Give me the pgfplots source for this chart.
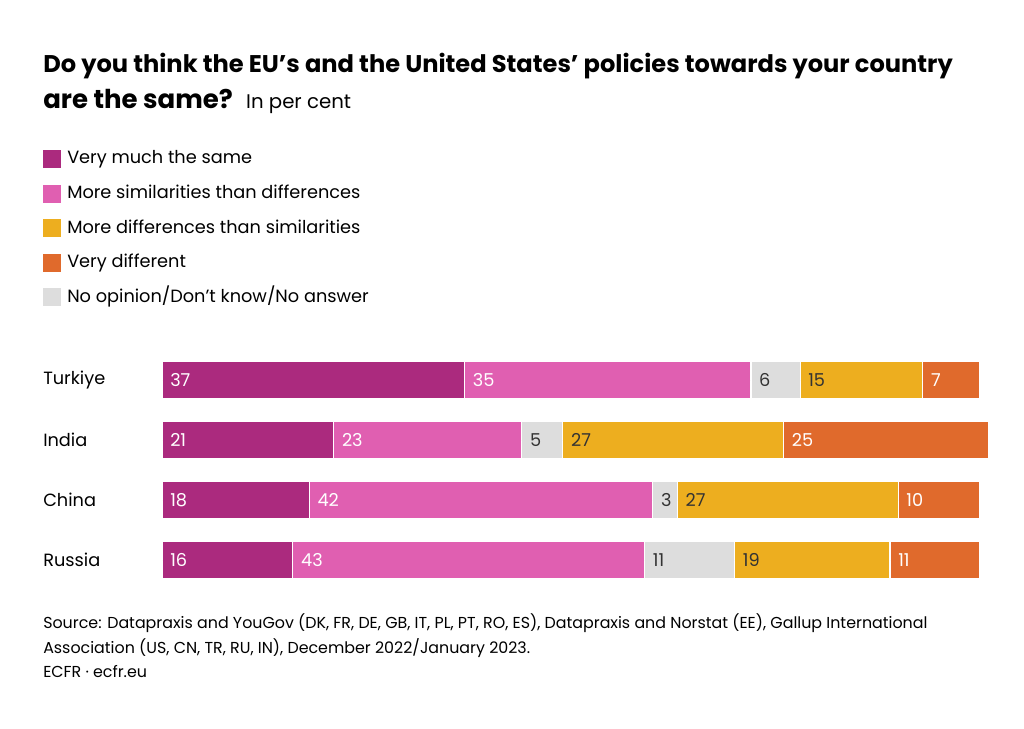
\documentclass[border=0pt]{standalone}
\usepackage{fontspec}
\setmainfont{Poppins}
\usepackage{pgfplots}
\pgfplotsset{compat=1.18}
\usepackage{pgfplotstable}
\definecolor{cMag}{HTML}{AB2A7E}
\definecolor{cPink}{HTML}{E05FB1}
\definecolor{cGray}{HTML}{DDDDDD}
\definecolor{cYel}{HTML}{EDAE1F}
\definecolor{cOra}{HTML}{E06A2C}
\definecolor{cTxt}{HTML}{333333}

% y: 0 Turkiye, 1 India, 2 China, 3 Russia
\pgfplotstableread{
y same sim none diff vdiff s1 s2 s3 s4 s5
0 37 35 6 15 7   0 37 72 78 93
1 21 23 5 27 25  0 21 44 49 76
2 18 42 3 27 10  0 18 60 63 90
3 16 43 11 19 11 0 16 59 70 89
}\datatab

\begin{document}
\begin{tikzpicture}[x=0.75pt,y=-0.75pt]
\path[fill=white,use as bounding box] (0,0) rectangle (1024,728);

\node[anchor=base west,inner sep=0,font=\bfseries\fontsize{18.1}{21}\selectfont,text=black] at (43,72) {Do you think the EU's and the United States' policies towards your country};
\node[anchor=base west,inner sep=0,font=\fontsize{18.1}{21}\selectfont,text=black] at (43,108) {\textbf{\fontsize{19.5}{21}\selectfont are the same?}\hspace{0.55em}{\fontsize{14.8}{21}\selectfont In per cent}};

\begin{axis}[
  at={(121.5pt,-262.5pt)}, anchor=north west,
  scale only axis, width=613.5pt, height=180pt,
  xbar stacked, bar width=28.5pt,
  xmin=0, xmax=100, ymin=-0.5, ymax=3.5, y dir=reverse,
  axis line style={draw=none}, clip=false,
  xtick=\empty, ytick={0,1,2,3}, yticklabels={Turkiye,India,China,Russia},
  major tick length=0pt, tick style={draw=none},
  yticklabel style={anchor=west, xshift=-89.25pt, inner sep=0pt, font=\fontsize{13.3}{16}\selectfont, text=black},
  legend style={at={(-0.1455,1.8375)}, anchor=north west, draw=none, fill=none,
    font=\fontsize{13.3}{16}\selectfont, row sep=10.9pt, inner sep=0pt,
    nodes={inner ysep=1pt, inner xsep=4.5pt, text height=10pt, text depth=3pt}},
  legend cell align=left,
  legend image code/.code={\fill[#1] (0pt,-6.75pt) rectangle (13.5pt,6.75pt);},
]
\addplot[fill=cMag, draw=white, line width=0.8pt, forget plot] table[x=same, y=y] {\datatab};
\addplot[fill=cPink, draw=white, line width=0.8pt, forget plot] table[x=sim, y=y] {\datatab};
\addplot[fill=cGray, draw=white, line width=0.8pt, forget plot] table[x=none, y=y] {\datatab};
\addplot[fill=cYel, draw=white, line width=0.8pt, forget plot] table[x=diff, y=y] {\datatab};
\addplot[fill=cOra, draw=white, line width=0.8pt, forget plot] table[x=vdiff, y=y] {\datatab};
\addlegendimage{fill=cMag, draw=none}
\addlegendentry{Very much the same}
\addlegendimage{fill=cPink, draw=none}
\addlegendentry{More similarities than differences}
\addlegendimage{fill=cYel, draw=none}
\addlegendentry{More differences than similarities}
\addlegendimage{fill=cOra, draw=none}
\addlegendentry{Very different}
\addlegendimage{fill=cGray, draw=none}
\addlegendentry{No opinion/Don’t know/No answer}
\end{axis}

\begin{axis}[
  at={(121.5pt,-262.5pt)}, anchor=north west,
  scale only axis, width=613.5pt, height=180pt,
  xmin=0, xmax=100, ymin=-0.5, ymax=3.5, y dir=reverse,
  axis lines=none, clip=false, xtick=\empty, ytick=\empty,
  /pgf/number format/assume math mode=true,
  nodes near coords,
  nodes near coords style={anchor=west, inner sep=0pt, xshift=6pt, font=\fontsize{13.3}{16}\selectfont},
]
\addplot[only marks, mark=*, mark size=0pt, mark options={draw=none,fill=none}, point meta=explicit, nodes near coords style={text=white}] table[x=s1, y=y, meta=same] {\datatab};
\addplot[only marks, mark=*, mark size=0pt, mark options={draw=none,fill=none}, point meta=explicit, nodes near coords style={text=white}] table[x=s2, y=y, meta=sim] {\datatab};
\addplot[only marks, mark=*, mark size=0pt, mark options={draw=none,fill=none}, point meta=explicit, nodes near coords style={text=cTxt}] table[x=s3, y=y, meta=none] {\datatab};
\addplot[only marks, mark=*, mark size=0pt, mark options={draw=none,fill=none}, point meta=explicit, nodes near coords style={text=cTxt}] table[x=s4, y=y, meta=diff] {\datatab};
\addplot[only marks, mark=*, mark size=0pt, mark options={draw=none,fill=none}, point meta=explicit, nodes near coords style={text=white}] table[x=s5, y=y, meta=vdiff] {\datatab};
\end{axis}

\node[anchor=base west,inner sep=0,font=\fontsize{11.9}{14}\selectfont,text=black] at (43,628) {Source: Datapraxis and YouGov (DK, FR, DE, GB, IT, PL, PT, RO, ES), Datapraxis and Norstat (EE), Gallup International};
\node[anchor=base west,inner sep=0,font=\fontsize{11.9}{14}\selectfont,text=black] at (43,653) {Association (US, CN, TR, RU, IN), December 2022/January 2023.};
\node[anchor=base west,inner sep=0,font=\fontsize{11.9}{14}\selectfont,text=black] at (43,677) {ECFR · ecfr.eu};
\end{tikzpicture}
\end{document}
